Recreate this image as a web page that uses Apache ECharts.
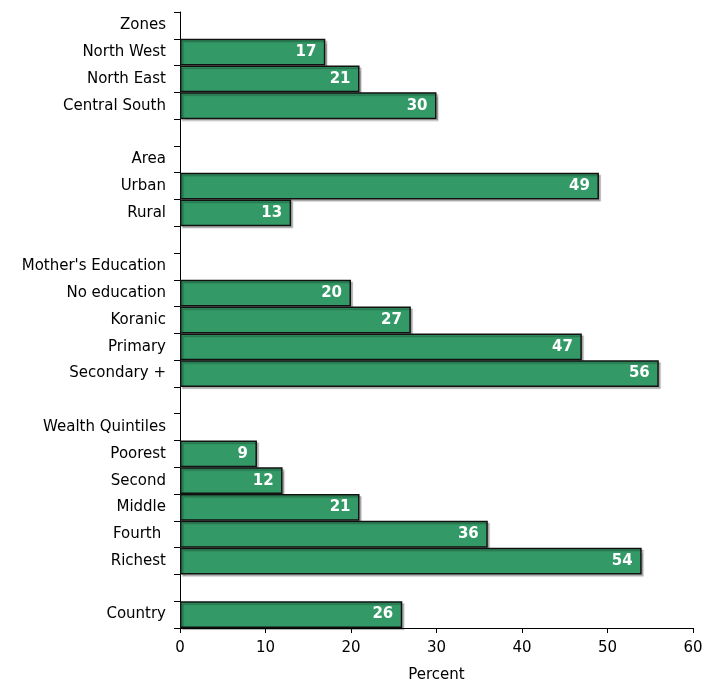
<!DOCTYPE html>
<html>
<head>
<meta charset="utf-8">
<script src="https://cdn.jsdelivr.net/npm/echarts@6/dist/echarts.min.js"></script>
<style>
  html, body { margin: 0; padding: 0; background: #fff; }
  #chart { width: 705px; height: 684px; }
</style>
</head>
<body>
<div id="chart"></div>
<script>
// Group headings and spacer rows have no bar (null value).
var categories = [
  'Zones', 'North West', 'North East', 'Central South', ' ',
  'Area', 'Urban', 'Rural', '  ',
  "Mother's Education", 'No education', 'Koranic', 'Primary', 'Secondary +', '   ',
  'Wealth Quintiles', 'Poorest', 'Second', 'Middle', 'Fourth ', 'Richest', '    ',
  'Country'
];
var percentValues = [
  null, 17, 21, 30, null,
  null, 49, 13, null,
  null, 20, 27, 47, 56, null,
  null, 9, 12, 21, 36, 54, null,
  26
];
var xTicks = [0, 10, 20, 30, 40, 50, 60];

var chart = echarts.init(document.getElementById('chart'), null, { renderer: 'canvas' });
var font = 'DejaVu Sans, Liberation Sans, sans-serif';

chart.setOption({
  animation: false,
  grid: {
    left: 180, right: 12, top: 12, bottom: 56,
    containLabel: false,
    outerBoundsMode: 'none'
  },
  xAxis: {
    type: 'value',
    min: xTicks[0],
    max: xTicks[xTicks.length - 1],
    interval: 10,
    name: 'Percent',
    nameLocation: 'middle',
    nameGap: 40,
    nameTextStyle: { fontFamily: font, fontSize: 15, color: '#000' },
    axisLine: { show: true, lineStyle: { color: '#000', width: 1 } },
    axisTick: { show: true, length: 5, lineStyle: { color: '#000' } },
    axisLabel: { fontFamily: font, fontSize: 15, color: '#000', margin: 13 },
    splitLine: { show: false }
  },
  yAxis: {
    type: 'category',
    inverse: true,
    data: categories,
    axisLine: { show: true, lineStyle: { color: '#000', width: 1 } },
    axisTick: { show: true, interval: 0, length: 6, alignWithLabel: false, lineStyle: { color: '#000' } },
    axisLabel: { interval: 0, fontFamily: font, fontSize: 15, color: '#000', margin: 14 },
    splitLine: { show: false }
  },
  series: [{
    type: 'bar',
    data: percentValues,
    barCategoryGap: '0%',
    itemStyle: {
      color: '#339966',
      borderColor: '#111',
      borderWidth: 1.5,
      shadowColor: 'rgba(0,0,0,0.25)',
      shadowOffsetX: 2,
      shadowOffsetY: 2,
      shadowBlur: 1
    },
    label: {
      show: true,
      position: 'insideRight',
      distance: 9,
      color: '#fff',
      fontFamily: font,
      fontWeight: 'bold',
      fontSize: 15
    }
  }]
});
</script>
</body>
</html>
